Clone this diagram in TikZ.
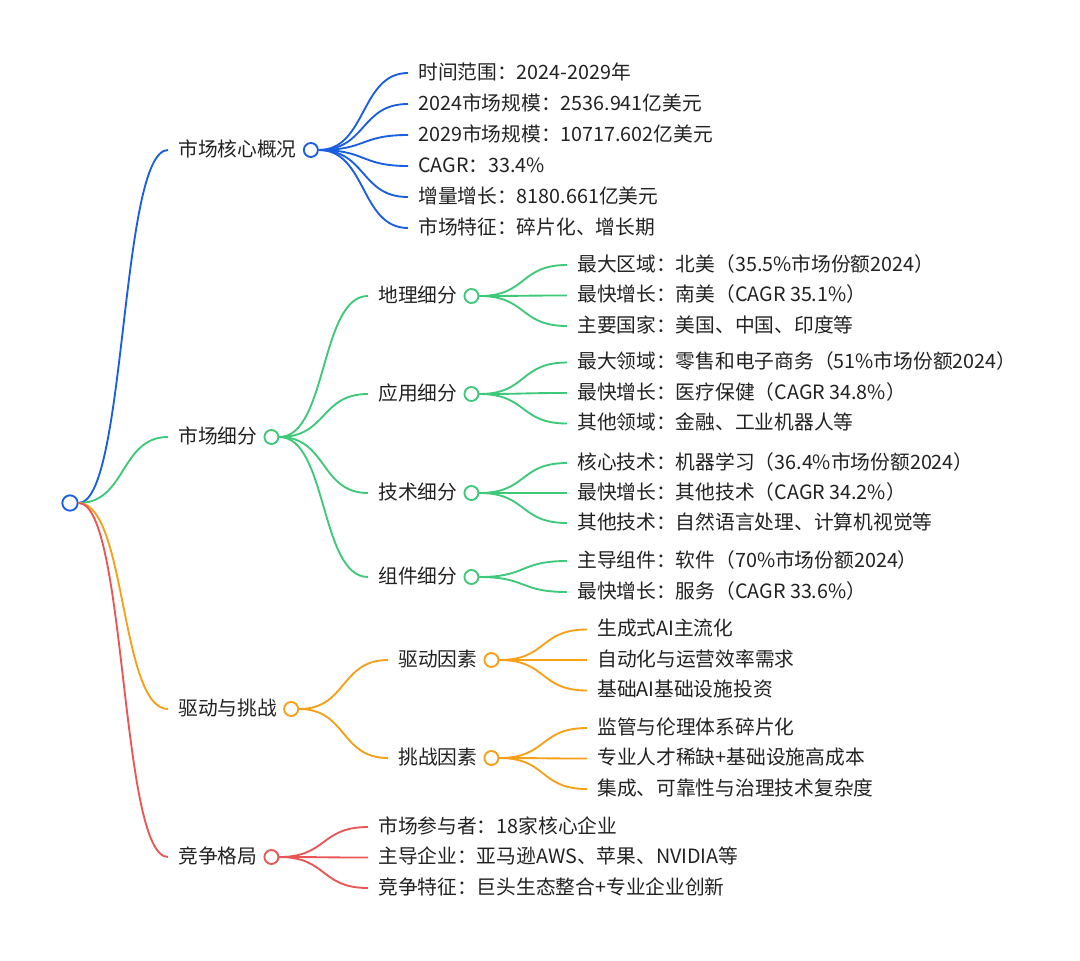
\documentclass[tikz,border=0pt]{standalone}
\usepackage{fontspec}
\setmainfont{Noto Sans CJK SC}
\usetikzlibrary{positioning}
\definecolor{MapBlue}{RGB}{26,95,226}
\definecolor{MapGreen}{RGB}{62,200,122}
\definecolor{MapOrange}{RGB}{245,160,22}
\definecolor{MapRed}{RGB}{234,86,86}
\definecolor{Ink}{RGB}{34,34,34}
\tikzset{
  topic/.style={anchor=west,inner xsep=7.5pt,inner ysep=0pt,text=Ink,font=\fontsize{14.8}{17}\selectfont,text height=1em,text depth=.04em},
  knob/.style={circle,draw=#1,line width=1.4pt,fill=white,minimum size=10.5pt,inner sep=0pt},
  twig/.style={draw=#1,line width=1.4pt}
}
\newcommand{\twig}[3]{\draw[twig=#1] (#2) .. controls +(48,0) and +(-48,0) .. (#3.west);}

\begin{document}
\begin{tikzpicture}[x=0.75pt,y=-0.75pt]
  \useasboundingbox (0,0) rectangle (1080,960);
  % root
  \node[knob=MapBlue,minimum size=11.5pt] (root) at (70,503) {};
  % first level
  \node[topic] (ov) at (168,150) {市场核心概况};
  \node[topic] (seg) at (168,437) {市场细分};
  \node[topic] (dc) at (168,709) {驱动与挑战};
  \node[topic] (comp) at (168,857) {竞争格局};
  \twig{MapBlue}{root.east}{ov}
  \twig{MapGreen}{root.east}{seg}
  \twig{MapOrange}{root.east}{dc}
  \twig{MapRed}{root.east}{comp}
  \node[knob=MapBlue,right=-3pt of ov] (ov-k) {};
  \node[knob=MapGreen,right=-3pt of seg] (seg-k) {};
  \node[knob=MapOrange,right=-3pt of dc] (dc-k) {};
  \node[knob=MapRed,right=-3pt of comp] (comp-k) {};
  % second level
  \node[topic] (geo) at (368,296) {地理细分};
  \node[topic] (app) at (368,394) {应用细分};
  \node[topic] (tech) at (368,493) {技术细分};
  \node[topic] (part) at (368,577) {组件细分};
  \node[topic] (drv) at (388,660) {驱动因素};
  \node[topic] (chl) at (388,758) {挑战因素};
  \foreach \n in {geo,app,tech,part} {\twig{MapGreen}{seg-k.east}{\n}}
  \foreach \n in {drv,chl} {\twig{MapOrange}{dc-k.east}{\n}}
  \node[knob=MapGreen,right=-3pt of geo] (geo-k) {};
  \node[knob=MapGreen,right=-3pt of app] (app-k) {};
  \node[knob=MapGreen,right=-3pt of tech] (tech-k) {};
  \node[knob=MapGreen,right=-3pt of part] (part-k) {};
  \node[knob=MapOrange,right=-3pt of drv] (drv-k) {};
  \node[knob=MapOrange,right=-3pt of chl] (chl-k) {};
  % leaves
  \foreach \t [count=\i] in {时间范围：2024-2029年,2024市场规模：2536.941亿美元,2029市场规模：10717.602亿美元,CAGR：33.4\%,增量增长：8180.661亿美元,市场特征：碎片化、增长期} {
    \node[topic] (ov-\i) at (408,{150.5+31*(\i-3.5)}) {\t};
    \twig{MapBlue}{ov-k.east}{ov-\i}
  }
  \foreach \t [count=\i] in {最大区域：北美（35.5\%市场份额2024）,最快增长：南美（CAGR 35.1\%）,主要国家：美国、中国、印度等} {
    \node[topic] (geo-\i) at (567,{295.5+30.5*(\i-2)}) {\t};
    \twig{MapGreen}{geo-k.east}{geo-\i}
  }
  \foreach \t [count=\i] in {最大领域：零售和电子商务（51\%市场份额2024）,最快增长：医疗保健（CAGR 34.8\%）,其他领域：金融、工业机器人等} {
    \node[topic] (app-\i) at (567,{393+30.5*(\i-2)}) {\t};
    \twig{MapGreen}{app-k.east}{app-\i}
  }
  \foreach \t [count=\i] in {核心技术：机器学习（36.4\%市场份额2024）,最快增长：其他技术（CAGR 34.2\%）,其他技术：自然语言处理、计算机视觉等} {
    \node[topic] (tech-\i) at (567,{493+30*(\i-2)}) {\t};
    \twig{MapGreen}{tech-k.east}{tech-\i}
  }
  \foreach \t [count=\i] in {主导组件：软件（70\%市场份额2024）,最快增长：服务（CAGR 33.6\%）} {
    \node[topic] (part-\i) at (567,{576.5+31*(\i-1.5)}) {\t};
    \twig{MapGreen}{part-k.east}{part-\i}
  }
  \foreach \t [count=\i] in {生成式AI主流化,自动化与运营效率需求,基础AI基础设施投资} {
    \node[topic] (drv-\i) at (587,{660+30.5*(\i-2)}) {\t};
    \twig{MapOrange}{drv-k.east}{drv-\i}
  }
  \foreach \t [count=\i] in {监管与伦理体系碎片化,专业人才稀缺+基础设施高成本,集成、可靠性与治理技术复杂度} {
    \node[topic] (chl-\i) at (587,{758.5+30.5*(\i-2)}) {\t};
    \twig{MapOrange}{chl-k.east}{chl-\i}
  }
  \foreach \t [count=\i] in {市场参与者：18家核心企业,主导企业：亚马逊AWS、苹果、NVIDIA等,竞争特征：巨头生态整合+专业企业创新} {
    \node[topic] (comp-\i) at (368,{857.5+30.5*(\i-2)}) {\t};
    \twig{MapRed}{comp-k.east}{comp-\i}
  }
\end{tikzpicture}
\end{document}
